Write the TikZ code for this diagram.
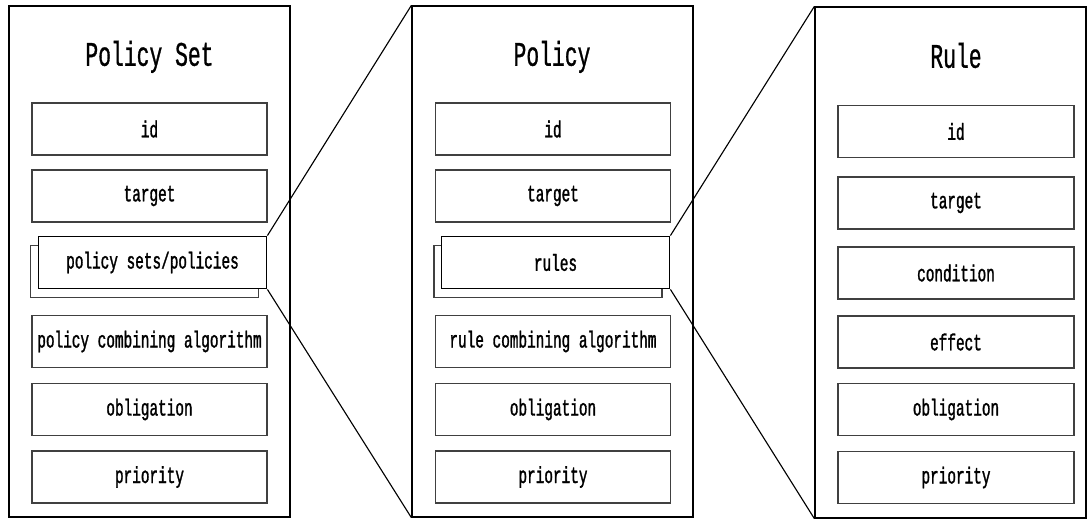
\documentclass[tikz,border=0pt]{standalone}
\usepackage{fontspec}
\newfontfamily\boxfont[FakeStretch=0.62, FakeBold=1.3]{Liberation Mono}
\newfontfamily\headfont[FakeStretch=0.62, FakeBold=0.8]{Liberation Mono}

\begin{document}
\begin{tikzpicture}[
		panel/.style={draw, line width=0.9pt, minimum width=7.025cm, minimum height=12.775cm, inner sep=0pt},
		field/.style={draw=black!75, line width=1pt, minimum width=5.875cm, minimum height=1.3cm, inner sep=0pt, font=\boxfont\fontsize{16.5}{16.5}\selectfont},
		stacked/.style={field, minimum width=5.7cm, fill=white},
		title/.style={anchor=base, font=\headfont\fontsize{24.5}{24.5}\selectfont}]

		\useasboundingbox (0,0) rectangle (27.2,12.975);

		% policy set
		\node[panel] (pset) at (3.7375,6.4375) {};
		\node[title] (psettitle) at (3.7375,11.33) {Policy Set};
		\node[field] (psetid) at (3.7375,9.75) {id};
		\node[field] (psettarget) at (3.7375,8.075) {target};
		\node[stacked] (psetbg) at (3.6125,6.1875) {};
		\node[stacked, draw=black, line width=1.3pt] (psetlist) at (3.8125,6.4125) {policy sets/policies};
		\node[field] (psetalg) at (3.7375,4.4375) {policy combining algorithm};
		\node[field] (psetobl) at (3.7375,2.7375) {obligation};
		\node[field] (psetprio) at (3.7375,1.05) {priority};

		% policy
		\node[panel] (pol) at (13.8125,6.4375) {};
		\node[title] (poltitle) at (13.8,11.33) {Policy};
		\node[field] (polid) at (13.825,9.75) {id};
		\node[field] (poltarget) at (13.825,8.075) {target};
		\node[stacked] (polbg) at (13.7,6.1875) {};
		\node[stacked, draw=black, line width=1.3pt] (polrules) at (13.8875,6.4125) {rules};
		\node[field] (polalg) at (13.825,4.4375) {rule combining algorithm};
		\node[field] (polobl) at (13.825,2.7375) {obligation};
		\node[field] (polprio) at (13.825,1.05) {priority};

		% rule
		\node[panel, minimum width=6.775cm] (rule) at (23.7625,6.4125) {};
		\node[title] (ruletitle) at (23.9,11.28) {Rule};
		\node[field, minimum width=5.9cm] (ruleid) at (23.9,9.6875) {id};
		\node[field, minimum width=5.9cm] (ruletarget) at (23.9,7.9) {target};
		\node[field, minimum width=5.9cm] (rulecond) at (23.9,6.15) {condition};
		\node[field, minimum width=5.9cm] (ruleeff) at (23.9,4.425) {effect};
		\node[field, minimum width=5.9cm] (ruleobl) at (23.9,2.7375) {obligation};
		\node[field, minimum width=5.9cm] (ruleprio) at (23.9,1.0375) {priority};

		% zoom lines
		\draw[line width=0.8pt] (psetlist.north east) -- (pol.north west);
		\draw[line width=0.8pt] (psetlist.south east) -- (pol.south west);
		\draw[line width=0.8pt] (polrules.north east) -- (rule.north west);
		\draw[line width=0.8pt] (polrules.south east) -- (rule.south west);

	\end{tikzpicture}
\end{document}
